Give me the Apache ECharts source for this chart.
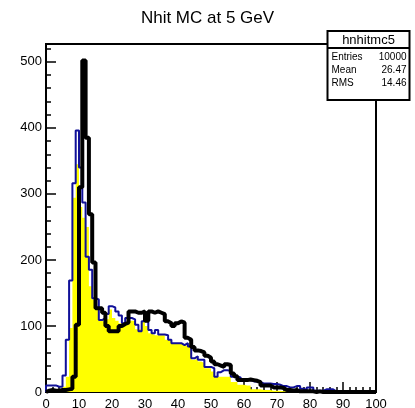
<!DOCTYPE html>
<html><head><meta charset="utf-8">
<script src="https://cdn.jsdelivr.net/npm/echarts@6/dist/echarts.min.js"></script>
<style>html,body{margin:0;padding:0;background:#fff}#c{width:415px;height:408px}</style>
</head><body><div id="c"></div>
<script>
const chartTitle = 'Nhit MC at 5 GeV';
const histName = 'hnhitmc5';
const statLabels = ['Entries', 'Mean', 'RMS'];
const statValues = ['10000', '26.47', '14.46'];
const xMin = 0, xMax = 100, yMax = 527;
// bin contents, bins of width 1 from 0 to 100
const yellowCounts = [2,3,3,3,4,8,23,97,294,345, 280,264,250,160,140,125,108,105,110,125,
  112,108,104,104,104,108,108,95,95,107, 100,89,86,86,86,86,79,79,74,74,
  74,72,69,69,49,50,46,44,36,36, 31,23,23,23,23,23,15,15,11,11,
  10,10,4,4,4,3,3,3,2,2, 2,1,1,1,0,0,0,0,0,0,
  0,0,0,0,0,0,0,0,0,0, 0,0,0,0,0,0,0,0,0,0];
const blueCounts = [10,10,10,8,8,25,79,169,316,396, 340,287,205,185,142,140,109,112,118,130,
  128,122,116,104,112,112,110,102,92,107, 107,94,89,94,87,87,86,79,74,74,
  74,71,74,69,51,54,49,49,38,38, 36,23,30,33,33,32,23,23,22,18,
  18,18,16,16,15,13,13,13,12,12, 11,9,9,7,7,9,9,5,3,7,
  7,2,2,2,4,4,4,1,1,0, 1,0,0,0,0,0,0,0,0,0];
const blackCounts = [2,3,2,2,3,3,4,5,23,102, 310,502,385,269,196,127,127,120,100,92,
  92,92,100,103,105,122,122,120,120,122, 108,122,120,122,120,118,107,104,100,104,
  107,105,82,79,68,63,62,60,55,52, 46,42,40,38,42,41,28,24,18,18,
  18,19,18,17,15,10,10,10,7,7, 7,6,3,3,2,3,1,1,1,1,
  1,0,1,0,0,0,0,0,0,0, 0,0,0,0,0,0,0,0,0,0];

function stepData(arr){
  const d = [[xMin, 0]];
  arr.forEach((v, i) => d.push([xMin + i, v]));
  d.push([xMax, arr[arr.length - 1]]);
  d.push([xMax, 0]);
  return d;
}

const FONT = 'Liberation Sans, Arial, Helvetica, sans-serif';
const chart = echarts.init(document.getElementById('c'), null, {renderer: 'canvas'});
const G = {left: 46, top: 44, right: 39, bottom: 16};
chart.setOption({
  animation: false,
  backgroundColor: '#fff',
  title: {text: chartTitle, left: 'center', top: 5,
    textStyle: {fontFamily: FONT, fontSize: 17, fontWeight: 'normal', color: '#000'}},
  grid: {left: G.left, top: G.top, right: G.right, bottom: G.bottom, show: true,
    containLabel: false, outerBoundsMode: 'none',
    borderColor: '#000', borderWidth: 2, backgroundColor: 'transparent'},
  xAxis: {type: 'value', min: xMin, max: xMax, interval: 10,
    axisLine: {show: false},
    axisTick: {show: true, inside: true, length: 10, lineStyle: {color: '#000', width: 1.5}},
    minorTick: {show: true, splitNumber: 5, length: 5, lineStyle: {color: '#000', width: 1.5}},
    splitLine: {show: false}, minorSplitLine: {show: false},
    axisLabel: {fontFamily: FONT, fontSize: 13, color: '#000', margin: 6,
      formatter: v => String(v)}},
  yAxis: [
    {type: 'value', min: 0, max: yMax, interval: 100, position: 'left',
      axisLine: {show: false},
      axisTick: {show: true, inside: true, length: 10, lineStyle: {color: '#000', width: 1.5}},
      splitLine: {show: false},
      axisLabel: {fontFamily: FONT, fontSize: 13, color: '#000', margin: 4, showMaxLabel: false,
        formatter: v => (v % 100 === 0 ? String(v) : '')}},
    {type: 'value', min: 0, max: yMax, interval: 20, position: 'left',
      axisLine: {show: false},
      axisTick: {show: true, inside: true, length: 5, lineStyle: {color: '#000', width: 1.5}},
      splitLine: {show: false}, axisLabel: {show: false}}
  ],
  series: [
    {type: 'line', step: 'end', data: stepData(yellowCounts), symbol: 'none',
      lineStyle: {width: 0, color: '#ffff00'}, areaStyle: {color: '#ffff00', opacity: 1}, z: 2},
    {type: 'line', step: 'end', data: stepData(blueCounts), symbol: 'none',
      lineStyle: {width: 2, color: '#101098'}, z: 3},
    {type: 'line', step: 'end', data: stepData(blackCounts), symbol: 'none',
      lineStyle: {width: 4, color: '#000'}, z: 4}
  ],
  graphic: [
    {type: 'group', left: 325, top: 30, z: 100, children: [
      {type: 'rect', shape: {x: 0, y: 0, width: 82, height: 69},
        style: {fill: '#fff', stroke: '#000', lineWidth: 2}},
      {type: 'line', shape: {x1: 0, y1: 17, x2: 82, y2: 17}, style: {stroke: '#000', lineWidth: 2}},
      {type: 'text', x: 41, y: 9, style: {text: histName, fontFamily: FONT, fontSize: 13,
        fill: '#000', align: 'center', verticalAlign: 'middle'}},
      ...statLabels.map((t, i) => ({type: 'text', x: 4, y: 26 + i * 13.3,
        style: {text: t, fontFamily: FONT, fontSize: 10, fill: '#000', align: 'left', verticalAlign: 'middle'}})),
      ...statValues.map((t, i) => ({type: 'text', x: 79, y: 26 + i * 13.3,
        style: {text: t, fontFamily: FONT, fontSize: 10, fill: '#000', align: 'right', verticalAlign: 'middle'}}))
    ]}
  ]
});
</script></body></html>
